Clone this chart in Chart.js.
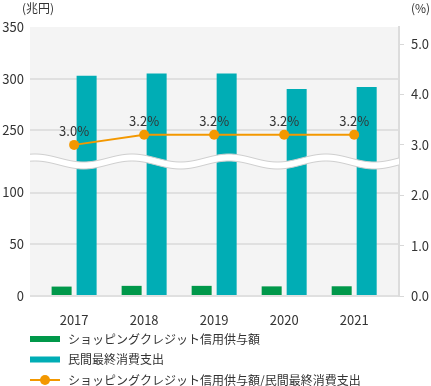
<!DOCTYPE html>
<html lang="ja">
<head>
<meta charset="utf-8">
<title>ショッピングクレジット信用供与額</title>
<script src="https://cdn.jsdelivr.net/npm/chart.js@4.4.1/dist/chart.umd.min.js"></script>
<style>
  body { margin: 0; background: #fff; }
  canvas { display: block; }
</style>
</head>
<body>
<canvas id="creditChart" width="431" height="386"></canvas>
<script>
// data
const years = ['2017', '2018', '2019', '2020', '2021'];
const creditValues = [9.1, 9.8, 9.8, 9.3, 9.4];            // 兆円
const consumptionValues = [303, 305, 305, 290, 292];        // 兆円
const ratioValues = [3.0, 3.2, 3.2, 3.2, 3.2];              // %
const leftTicks = [0, 50, 100, 250, 300, 350];
const rightTicks = [0, 1, 2, 3, 4, 5];
const seriesNames = [
  'ショッピングクレジット信用供与額',
  '民間最終消費支出',
  'ショッピングクレジット信用供与額/民間最終消費支出'
];
const seriesColors = ['#00984a', '#00adb5', '#f39800'];

// broken left axis: 100..250 squeezed to 60 units
const breakFrom = 100;
const breakTo = 250;
const breakShown = 60;
function toAxis(v) {
  return v <= breakFrom ? v : v - (breakTo - breakFrom) + breakShown;
}
function fromAxis(d) {
  return d <= breakFrom ? d : d + (breakTo - breakFrom) - breakShown;
}

const FONT = '"Noto Sans CJK JP", "Noto Sans", sans-serif';
Chart.defaults.font.family = FONT;
Chart.defaults.font.size = 13;
Chart.defaults.color = '#333';

// grey plot background
const plotBackground = {
  id: 'plotBackground',
  beforeDraw(chart) {
    const { ctx, chartArea: a } = chart;
    ctx.save();
    ctx.fillStyle = '#f4f4f4';
    ctx.fillRect(a.left, a.top, a.right - a.left, a.bottom - a.top);
    ctx.restore();
  }
};

// wavy white band marking the axis break, plus point labels
const breakAndLabels = {
  id: 'breakAndLabels',
  afterDatasetsDraw(chart) {
    const { ctx, chartArea: a } = chart;
    const yc = chart.scales.y.getPixelForValue(breakFrom + breakShown / 2);
    const wave = x => yc - 4 * Math.cos(2 * Math.PI * (x - 35) / 97);
    const half = 3.5;
    ctx.save();
    ctx.beginPath();
    for (let x = a.left; x <= a.right; x++) {
      if (x === a.left) ctx.moveTo(x, wave(x) - half); else ctx.lineTo(x, wave(x) - half);
    }
    for (let x = a.right; x >= a.left; x--) ctx.lineTo(x, wave(x) + half);
    ctx.closePath();
    ctx.fillStyle = '#fff';
    ctx.fill();
    ctx.lineWidth = 1;
    ctx.strokeStyle = '#cfcfcf';
    [-half, half].forEach(off => {
      ctx.beginPath();
      for (let x = a.left; x <= a.right; x++) {
        if (x === a.left) ctx.moveTo(x, wave(x) + off); else ctx.lineTo(x, wave(x) + off);
      }
      ctx.stroke();
    });

    // percentage labels above the line points
    const meta = chart.getDatasetMeta(2);
    ctx.font = '13px ' + FONT;
    ctx.fillStyle = '#333';
    ctx.textAlign = 'center';
    ctx.textBaseline = 'middle';
    meta.data.forEach((pt, i) => {
      ctx.fillText(ratioValues[i].toFixed(1) + '%', pt.x, pt.y - 14);
    });
    ctx.restore();
  },
  afterDraw(chart) {
    const { ctx } = chart;
    ctx.save();
    // unit labels
    ctx.font = '12px ' + FONT;
    ctx.fillStyle = '#333';
    ctx.textBaseline = 'middle';
    ctx.textAlign = 'left';
    ctx.fillText('(兆円)', 22, 8);
    ctx.fillText('(%)', 411, 8);

    // legend, one item per row
    chart.data.datasets.forEach((ds, i) => {
      const y = 339 + i * 20.5;
      if (ds.type === 'line') {
        ctx.strokeStyle = ds.borderColor;
        ctx.lineWidth = 2;
        ctx.beginPath();
        ctx.moveTo(30, y);
        ctx.lineTo(60, y);
        ctx.stroke();
        ctx.fillStyle = ds.borderColor;
        ctx.beginPath();
        ctx.arc(45, y, 5, 0, Math.PI * 2);
        ctx.fill();
      } else {
        ctx.fillStyle = ds.backgroundColor;
        ctx.fillRect(30, y - 3, 30, 6);
      }
      ctx.fillStyle = '#333';
      ctx.font = '12px ' + FONT;
      ctx.fillText(ds.label, 68, y);
    });
    ctx.restore();
  }
};

const ctx = document.getElementById('creditChart').getContext('2d');
new Chart(ctx, {
  data: {
    datasets: [
      {
        type: 'bar',
        label: seriesNames[0],
        data: creditValues.map((v, i) => ({ x: i, y: toAxis(v) })),
        backgroundColor: seriesColors[0],
        yAxisID: 'y',
        categoryPercentage: 50 / 70,
        barPercentage: 0.8,
        order: 2
      },
      {
        type: 'bar',
        label: seriesNames[1],
        data: consumptionValues.map((v, i) => ({ x: i, y: toAxis(v) })),
        backgroundColor: seriesColors[1],
        yAxisID: 'y',
        categoryPercentage: 50 / 70,
        barPercentage: 0.8,
        order: 2
      },
      {
        type: 'line',
        label: seriesNames[2],
        data: ratioValues.map((v, i) => ({ x: i, y: v })),
        borderColor: seriesColors[2],
        backgroundColor: seriesColors[2],
        borderWidth: 2,
        pointRadius: 5,
        pointBorderWidth: 0,
        yAxisID: 'y1',
        order: 0
      }
    ]
  },
  options: {
    responsive: false,
    animation: false,
    layout: { padding: { top: 27, left: 0, right: 0, bottom: 0 } },
    plugins: {
      legend: { display: false },
      tooltip: { enabled: false }
    },
    scales: {
      x: {
        type: 'linear',
        offset: false,
        min: -0.63,
        max: 4.64,
        grid: { display: false, offset: false },
        border: { display: false },
        ticks: {
          stepSize: 1,
          includeBounds: false,
          autoSkip: false,
          maxRotation: 0,
          padding: 8,
          callback: v => years[v] ?? ''
        },
        afterFit(scale) { scale.height = 90; }
      },
      y: {
        position: 'left',
        min: 0,
        max: toAxis(350),
        afterBuildTicks(scale) {
          scale.ticks = leftTicks.map(v => ({ value: toAxis(v) }));
        },
        ticks: {
          padding: 6,
          callback: v => String(fromAxis(v))
        },
        grid: {
          drawTicks: false,
          lineWidth: 2,
          color: c => (c.tick && c.tick.value === toAxis(350) ? 'rgba(0,0,0,0)' : '#e0e0e0')
        },
        border: { display: false },
        afterFit(scale) { scale.width = 30; }
      },
      y1: {
        position: 'right',
        min: 0,
        max: 5.34,
        afterBuildTicks(scale) {
          scale.ticks = rightTicks.map(v => ({ value: v }));
        },
        ticks: {
          padding: 7,
          callback: v => v.toFixed(1)
        },
        grid: {
          drawOnChartArea: false,
          drawTicks: true,
          tickLength: 5,
          tickWidth: 1,
          tickColor: '#d8d8d8'
        },
        border: { display: true, color: '#dcdcdc', width: 2 },
        afterFit(scale) { scale.width = 32; }
      }
    }
  },
  plugins: [plotBackground, breakAndLabels]
});
</script>
</body>
</html>
